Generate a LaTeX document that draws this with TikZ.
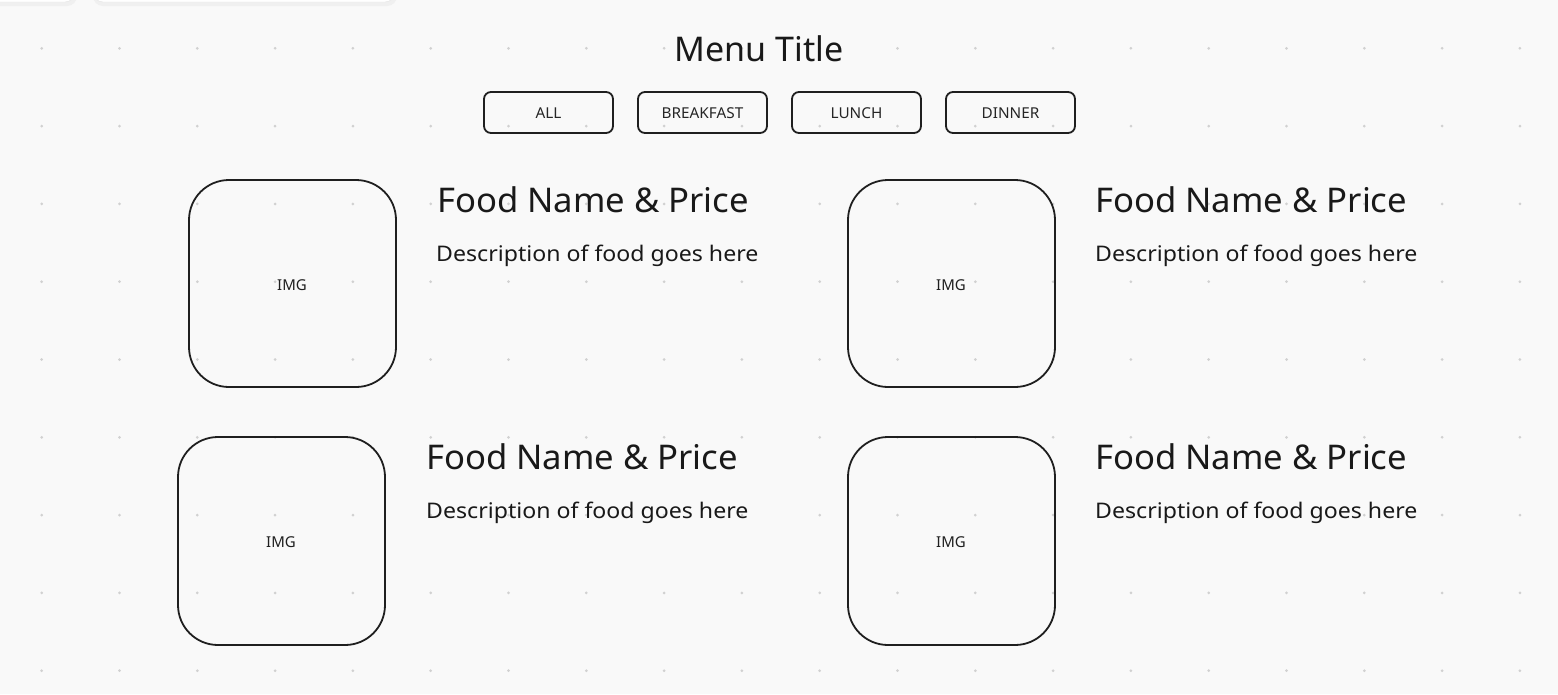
\documentclass[tikz,border=0pt]{standalone}
\usepackage{fontspec}
\setmainfont{Noto Sans}
\newfontfamily\titlefnt[FakeStretch=1.02]{Noto Sans}
\newfontfamily\descfnt[FakeStretch=1.075]{Noto Sans}
\newfontfamily\btnfnt[FakeStretch=1.02]{Noto Sans}
\begin{document}
\begin{tikzpicture}[x=1pt,y=-1pt,
  ink/.style={draw=black!88,line width=1.8pt},
  imgbox/.style={ink,rounded corners=40pt},
  btn/.style={ink,rounded corners=7pt},
  btntext/.style={anchor=base,inner sep=0pt,font=\btnfnt\fontsize{15}{18}\selectfont,text=black!85},
  foodtitle/.style={anchor=base west,inner sep=0pt,font=\titlefnt\fontsize{34}{40}\selectfont,text=black!90},
  fooddesc/.style={anchor=base west,inner sep=0pt,font=\descfnt\fontsize{21.5}{25}\selectfont,text=black!90},
  imgtext/.style={anchor=base,inner sep=0pt,font=\fontsize{15}{18}\selectfont,text=black!88},
  griddot/.style={fill=black!18,draw=none}]
\useasboundingbox (0,0) rectangle (1558,694);
\fill[black!2.5] (0,0) rectangle (1558,694);
% toolbar remnants
\fill[black!6,rounded corners=10pt] (-30,-30) rectangle (77,6);
\draw[fill=white,draw=black!10,rounded corners=10pt] (-30,-30) rectangle (75,2);
\fill[black!6,rounded corners=10pt] (93,-30) rectangle (397,6);
\draw[fill=white,draw=black!10,rounded corners=10pt] (93,-30) rectangle (395,2);
% grid dots
\foreach \i in {0,...,19}{\foreach \j in {0,...,8}{
  \fill[griddot] (41.7+77.8*\i,48.3+77.8*\j) circle (1.5);}}
% title
\node[anchor=base,inner sep=0pt,font=\fontsize{34}{40}\selectfont,text=black!90] (title) at (759,61.7) {Menu Title};
% buttons
\draw[btn] (484,92) rectangle (613,133);
\node[btntext] (ball) at (548.5,118.3) {ALL};
\draw[btn] (638,92) rectangle (767,133);
\node[btntext] (bbreak) at (702.5,118.3) {BREAKFAST};
\draw[btn] (792,92) rectangle (921,133);
\node[btntext] (blunch) at (856.5,118.3) {LUNCH};
\draw[btn] (946,92) rectangle (1075,133);
\node[btntext] (bdinner) at (1010.5,118.3) {DINNER};
% cards
\draw[imgbox] (189,180) rectangle (396,387);
\node[imgtext] (img1) at (292,290) {IMG};
\node[foodtitle] (t1) at (437,212.5) {Food Name \& Price};
\node[fooddesc] (d1) at (436,261.7) {Description of food goes here};

\draw[imgbox] (848,180) rectangle (1055,387);
\node[imgtext] (img2) at (951,290) {IMG};
\node[foodtitle] (t2) at (1095,212.5) {Food Name \& Price};
\node[fooddesc] (d2) at (1095,261.7) {Description of food goes here};

\draw[imgbox] (178,437) rectangle (385,645);
\node[imgtext] (img3) at (281,547) {IMG};
\node[foodtitle] (t3) at (426,469.5) {Food Name \& Price};
\node[fooddesc] (d3) at (426,518.7) {Description of food goes here};

\draw[imgbox] (848,437) rectangle (1055,645);
\node[imgtext] (img4) at (951,547) {IMG};
\node[foodtitle] (t4) at (1095,469.5) {Food Name \& Price};
\node[fooddesc] (d4) at (1095,518.7) {Description of food goes here};
\end{tikzpicture}
\end{document}
